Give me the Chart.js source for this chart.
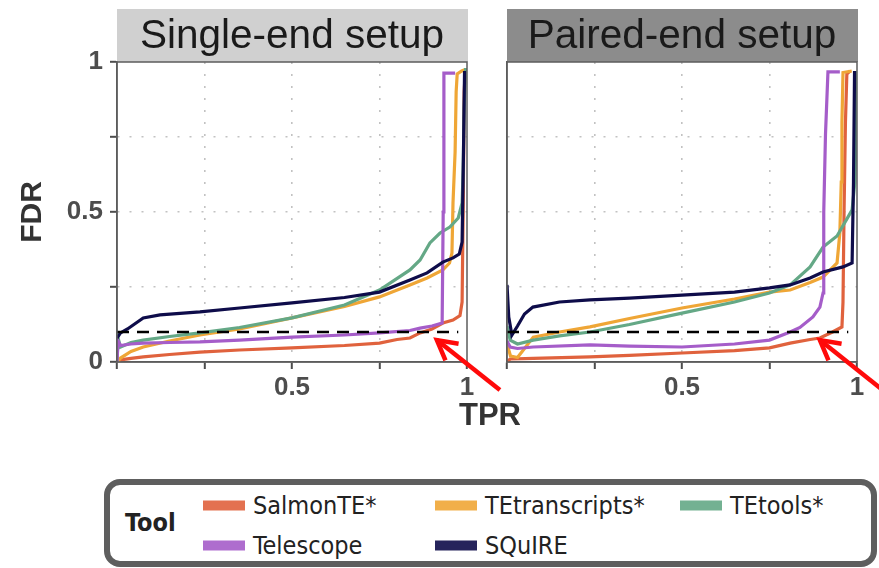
<!DOCTYPE html>
<html>
<head>
<meta charset="utf-8">
<script src="https://cdn.jsdelivr.net/npm/chart.js@4.4.1/dist/chart.umd.min.js"></script>
<style>
  html, body { margin: 0; padding: 0; background: #fff; width: 879px; height: 568px; overflow: hidden; }
  #wrap { position: relative; width: 879px; height: 568px; }
  #single { position: absolute; left: 0; top: 0; }
  #paired { position: absolute; left: 490px; top: 0; }
  #legend {
    position: absolute; left: 104px; top: 479px; width: 773px; height: 88px;
    box-sizing: border-box; border: 6px solid #5e5e5e; border-radius: 16px; background: #fff;
    font-family: "DejaVu Sans Condensed", "DejaVu Sans", sans-serif;
    font-stretch: condensed;
    color: #222;
  }
  #legend .title { position: absolute; left: 15px; top: 37px; transform: translateY(-50%); font-weight: bold; font-size: 25px; }
  #legend .item { position: absolute; transform: translateY(-50%); display: flex; align-items: center; font-size: 25px; white-space: nowrap; }
  #legend .sw { width: 42px; height: 10px; margin-right: 8px; }
</style>
</head>
<body>
<div id="wrap">
  <canvas id="single" width="520" height="440"></canvas>
  <canvas id="paired" width="389" height="440"></canvas>
  <div id="legend"></div>
</div>
<script>
// Tools, in legend order, and their colours
const TOOLS = ['SalmonTE*', 'TEtranscripts*', 'TEtools*', 'Telescope', 'SQuIRE'];
const TOOL_COLORS = ['#e0623d', '#efa636', '#64a886', '#a55dc9', '#0e0c4a'];
const PANELS = ['Single-end setup', 'Paired-end setup'];
const FDR_CUTOFF = 0.1;
const X_LABELED_TICKS = [0.5, 1];
const Y_LABELED_TICKS = [0, 0.5, 1];

// Single-end setup: [TPR, FDR]
const singleSalmonTE = [[0, 0], [0.01, 0.007], [0.04, 0.012], [0.075, 0.017], [0.15, 0.025], [0.237, 0.033],
  [0.35, 0.04], [0.5, 0.047], [0.65, 0.055], [0.75, 0.063], [0.8, 0.075], [0.837, 0.08], [0.866, 0.097],
  [0.9, 0.11], [0.931, 0.13], [0.96, 0.14], [0.98, 0.155], [0.986, 0.2], [0.989, 0.5], [0.992, 0.9], [0.995, 0.97]];
const singleTEtranscripts = [[0, 0], [0.01, 0.013], [0.04, 0.035], [0.075, 0.05], [0.15, 0.07], [0.237, 0.09],
  [0.35, 0.11], [0.5, 0.147], [0.65, 0.185], [0.75, 0.217], [0.837, 0.257], [0.886, 0.28], [0.931, 0.307],
  [0.95, 0.33], [0.957, 0.363], [0.96, 0.53], [0.966, 0.7], [0.969, 0.9], [0.972, 0.96], [0.985, 0.97], [0.995, 0.975]];
const singleTEtools = [[0, 0], [0.003, 0.08], [0.01, 0.05], [0.04, 0.065], [0.075, 0.073], [0.15, 0.085],
  [0.237, 0.097], [0.35, 0.115], [0.5, 0.147], [0.65, 0.19], [0.75, 0.24], [0.837, 0.307], [0.866, 0.34],
  [0.894, 0.397], [0.923, 0.43], [0.951, 0.45], [0.975, 0.48], [0.986, 0.53], [0.989, 0.64], [0.992, 0.85], [0.996, 0.98]];
const singleTelescope = [[0, 0], [0.003, 0.07], [0.01, 0.055], [0.04, 0.06], [0.075, 0.063], [0.15, 0.065],
  [0.237, 0.067], [0.35, 0.073], [0.5, 0.083], [0.65, 0.09], [0.75, 0.097], [0.837, 0.105], [0.866, 0.113],
  [0.9, 0.12], [0.929, 0.13], [0.932, 0.5], [0.934, 0.963], [0.966, 0.963]];
const singleSQuIRE = [[0, 0.08], [0.01, 0.097], [0.03, 0.11], [0.075, 0.147], [0.123, 0.157], [0.237, 0.167],
  [0.35, 0.18], [0.5, 0.197], [0.65, 0.215], [0.75, 0.233], [0.837, 0.273], [0.886, 0.297], [0.931, 0.333],
  [0.96, 0.347], [0.978, 0.36], [0.986, 0.4], [0.99, 0.7], [0.993, 0.97]];

// Paired-end setup: [TPR, FDR]
const pairedSalmonTE = [[0, 0], [0.009, 0.01], [0.075, 0.012], [0.237, 0.017], [0.35, 0.022], [0.5, 0.03],
  [0.65, 0.038], [0.75, 0.047], [0.809, 0.063], [0.866, 0.075], [0.894, 0.08], [0.93, 0.1], [0.957, 0.117],
  [0.96, 0.2], [0.963, 0.5], [0.967, 0.8], [0.971, 0.96], [0.98, 0.97]];
const pairedTEtranscripts = [[0, 0.06], [0.01, 0.02], [0.03, 0.015], [0.05, 0.045], [0.075, 0.083], [0.15, 0.1],
  [0.237, 0.117], [0.35, 0.145], [0.5, 0.18], [0.65, 0.21], [0.75, 0.233], [0.809, 0.24], [0.866, 0.265],
  [0.903, 0.283], [0.943, 0.33], [0.951, 0.43], [0.955, 0.6], [0.957, 0.8], [0.96, 0.965], [0.985, 0.97]];
const pairedTEtools = [[0, 0.12], [0.009, 0.073], [0.03, 0.06], [0.075, 0.073], [0.15, 0.087], [0.237, 0.1],
  [0.35, 0.125], [0.5, 0.163], [0.65, 0.2], [0.75, 0.23], [0.809, 0.257], [0.866, 0.317], [0.903, 0.383],
  [0.943, 0.42], [0.986, 0.507], [0.994, 0.6], [0.997, 0.77], [0.999, 0.97]];
const pairedTelescope = [[0, 0.07], [0.009, 0.05], [0.03, 0.045], [0.075, 0.05], [0.237, 0.057], [0.35, 0.053],
  [0.5, 0.05], [0.65, 0.06], [0.75, 0.073], [0.809, 0.1], [0.837, 0.115], [0.874, 0.15], [0.894, 0.183],
  [0.903, 0.23], [0.905, 0.5], [0.91, 0.76], [0.917, 0.967], [0.951, 0.967]];
const pairedSQuIRE = [[0, 0.257], [0.005, 0.15], [0.014, 0.09], [0.03, 0.12], [0.05, 0.16], [0.074, 0.183],
  [0.15, 0.2], [0.237, 0.207], [0.35, 0.213], [0.5, 0.223], [0.65, 0.233], [0.75, 0.247], [0.809, 0.257],
  [0.866, 0.28], [0.903, 0.3], [0.96, 0.317], [0.986, 0.33], [0.99, 0.6], [0.993, 0.97]];

const SINGLE_CURVES = [singleSalmonTE, singleTEtranscripts, singleTEtools, singleTelescope, singleSQuIRE];
const PAIRED_CURVES = [pairedSalmonTE, pairedTEtranscripts, pairedTEtools, pairedTelescope, pairedSQuIRE];

const SANS = '"Liberation Sans", Arial, Helvetica, sans-serif';

// Facet strip above the panel plus the panel frame
const stripPlugin = {
  id: 'strip',
  beforeDraw(chart, args, o) {
    const { ctx, chartArea: a } = chart;
    ctx.save();
    ctx.fillStyle = o.fill;
    ctx.fillRect(a.left, o.top, a.right - a.left + 1, a.top - o.top);
    ctx.fillStyle = '#1a1a1a';
    ctx.font = '40.5px ' + SANS;
    ctx.textAlign = 'center';
    ctx.textBaseline = 'middle';
    ctx.fillText(o.text, (a.left + a.right) / 2, (o.top + a.top) / 2 + 1);
    ctx.restore();
  },
  afterDraw(chart) {
    const { ctx, chartArea: a } = chart;
    ctx.save();
    ctx.strokeStyle = '#5c5c5c';
    ctx.lineWidth = 1.5;
    ctx.strokeRect(a.left, a.top, a.right - a.left, a.bottom - a.top);
    ctx.restore();
  }
};

// Red pointer arrow aimed at a (TPR, FDR) location
const arrowPlugin = {
  id: 'pointer',
  afterDraw(chart, args, o) {
    if (!o.tip) return;
    const { ctx, scales } = chart;
    const x = scales.x.getPixelForValue(o.tip[0]);
    const y = scales.y.getPixelForValue(o.tip[1]);
    const tx = x + o.dx, ty = y + o.dy;
    const ang = Math.atan2(ty - y, tx - x);
    ctx.save();
    ctx.strokeStyle = '#ff0a0a';
    ctx.lineWidth = 4.5;
    ctx.lineCap = 'butt';
    ctx.lineJoin = 'miter';
    ctx.beginPath();
    ctx.moveTo(tx, ty);
    ctx.lineTo(x, y);
    ctx.stroke();
    ctx.beginPath();
    ctx.moveTo(x + 22 * Math.cos(ang - 0.5), y + 22 * Math.sin(ang - 0.5));
    ctx.lineTo(x, y);
    ctx.lineTo(x + 22 * Math.cos(ang + 0.5), y + 22 * Math.sin(ang + 0.5));
    ctx.stroke();
    ctx.restore();
  }
};

// Shared x-axis title centred between the two panels
const sharedTitlePlugin = {
  id: 'sharedTitle',
  afterDraw(chart, args, o) {
    if (!o.text) return;
    const { ctx } = chart;
    ctx.save();
    ctx.fillStyle = '#333';
    ctx.font = 'bold 31px ' + SANS;
    ctx.textAlign = 'center';
    ctx.textBaseline = 'middle';
    ctx.fillText(o.text, o.x, o.y);
    ctx.restore();
  }
};

const gridColor = (c) => (c.tick && (c.tick.value === 0 || c.tick.value === 1)) ? 'rgba(0,0,0,0)' : '#c2c2c2';

function buildPanel(canvasId, curves, cfg) {
  const datasets = curves.map((pts, i) => ({
    label: TOOLS[i],
    data: pts.map(([x, y]) => ({ x, y })),
    borderColor: TOOL_COLORS[i],
    borderWidth: 3.2,
    pointRadius: 0,
    tension: 0,
    fill: false,
    order: 10 - i
  }));
  datasets.push({
    label: 'FDR cutoff',
    data: [{ x: 0, y: FDR_CUTOFF }, { x: 0.975, y: FDR_CUTOFF }],
    borderColor: '#000',
    borderWidth: 2.5,
    borderDash: [12, 8],
    pointRadius: 0,
    order: 0
  });

  return new Chart(document.getElementById(canvasId), {
    type: 'line',
    data: { datasets },
    plugins: [stripPlugin, arrowPlugin, sharedTitlePlugin],
    options: {
      responsive: false,
      animation: false,
      events: [],
      layout: { padding: cfg.padding },
      plugins: {
        legend: { display: false },
        tooltip: { enabled: false },
        strip: { text: cfg.title, fill: cfg.stripFill, top: 9 },
        pointer: cfg.arrow,
        sharedTitle: cfg.sharedTitle || {}
      },
      scales: {
        x: {
          type: 'linear', min: 0, max: 1,
          afterFit: (s) => { s.height = 40; },
          ticks: {
            stepSize: 0.25, autoSkip: false, maxRotation: 0, padding: 3,
            color: '#4d4d4d', font: { family: SANS, weight: 'bold', size: 26 },
            callback: (v) => X_LABELED_TICKS.includes(v) ? String(v) : ''
          },
          grid: { color: gridColor, lineWidth: 1.6, tickColor: '#4d4d4d', tickLength: 7, tickWidth: 2 },
          border: { color: '#5c5c5c', width: 1.5, dash: [2, 10] }
        },
        y: {
          type: 'linear', min: 0, max: 1,
          afterFit: (s) => { s.width = cfg.yWidth; },
          title: cfg.yTitle ? {
            display: true, text: 'FDR', color: '#333',
            font: { family: SANS, weight: 'bold', size: 30 }, padding: { top: 15, bottom: 0 }
          } : { display: false },
          ticks: {
            display: cfg.yLabels, stepSize: 0.25, autoSkip: false, padding: 7,
            color: '#4d4d4d', font: { family: SANS, weight: 'bold', size: 26 },
            callback: (v) => Y_LABELED_TICKS.includes(v) ? String(v) : ''
          },
          grid: { color: gridColor, lineWidth: 1.6, drawTicks: cfg.yLabels, tickColor: '#4d4d4d', tickLength: 7, tickWidth: 2 },
          border: { color: '#5c5c5c', width: 1.5, dash: [2, 10] }
        }
      }
    }
  });
}

buildPanel('single', SINGLE_CURVES, {
  title: PANELS[0], stripFill: '#d0d0d0',
  padding: { left: 0, top: 62, right: 53, bottom: 38 },
  yWidth: 117, yTitle: true, yLabels: true,
  arrow: { tip: [0.914, 0.073], dx: 63, dy: 50 },
  sharedTitle: { text: 'TPR', x: 490, y: 416 }
});

buildPanel('paired', PAIRED_CURVES, {
  title: PANELS[1], stripFill: '#8c8c8c',
  padding: { left: 0, top: 62, right: 22, bottom: 38 },
  yWidth: 17, yTitle: false, yLabels: false,
  arrow: { tip: [0.894, 0.073], dx: 63, dy: 50 }
});

// Legend box built from the tool list
(function buildLegend() {
  const box = document.getElementById('legend');
  const title = document.createElement('div');
  title.className = 'title';
  title.textContent = 'Tool';
  box.appendChild(title);
  const cols = [93, 325, 570];
  const rows = [20, 60];
  TOOLS.forEach((name, i) => {
    const item = document.createElement('div');
    item.className = 'item';
    item.style.left = cols[i % 3] + 'px';
    item.style.top = rows[Math.floor(i / 3)] + 'px';
    const sw = document.createElement('span');
    sw.className = 'sw';
    sw.style.background = TOOL_COLORS[i];
    sw.style.opacity = 0.9;
    const label = document.createElement('span');
    label.textContent = name;
    item.appendChild(sw);
    item.appendChild(label);
    box.appendChild(item);
  });
})();
</script>
</body>
</html>
